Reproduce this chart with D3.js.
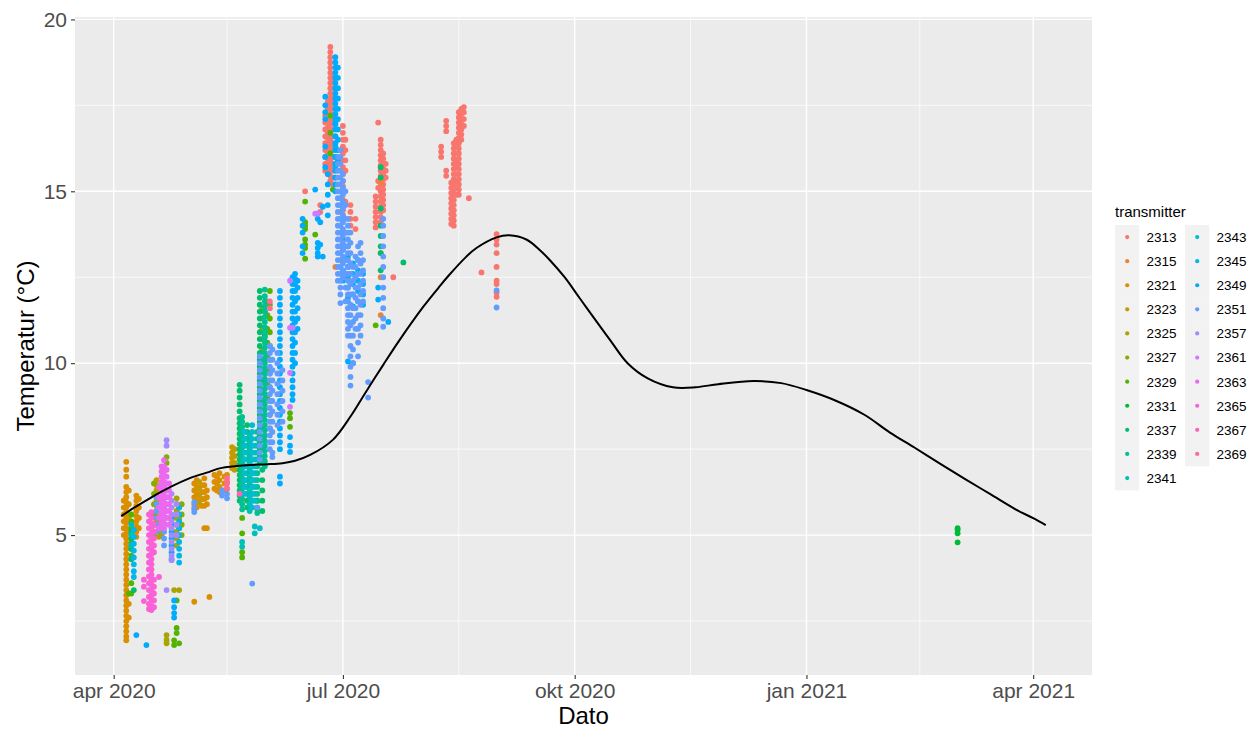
<!DOCTYPE html>
<html>
<head>
<meta charset="utf-8">
<script src="https://cdn.jsdelivr.net/npm/d3@7"></script>
<style>
  body { margin: 0; background: #ffffff; }
  svg { display: block; }
  text { font-family: "Liberation Sans", Arial, sans-serif; }
</style>
</head>
<body>
<svg id="chart" width="1254" height="730"></svg>
<script>
// ---- tick labels ----
const xTickDates = ["2020-04-01", "2020-07-01", "2020-10-01", "2021-01-01", "2021-04-01"];
const xTickLabels = ["apr 2020", "jul 2020", "okt 2020", "jan 2021", "apr 2021"];
const xMinorDates = ["2020-05-16", "2020-08-16", "2020-11-16", "2021-02-15"];
const yTicks = [5, 10, 15, 20];
const yMinor = [2.5, 7.5, 12.5, 17.5];

// ---- categories ----
const transmitters = ["2313", "2315", "2321", "2323", "2325", "2327", "2329", "2331", "2337", "2339", "2341",
                      "2343", "2345", "2349", "2351", "2357", "2361", "2363", "2365", "2367", "2369"];

// ---- observations per transmitter: [date, temperature, temperature, ...] ----
const obs2313 = [
  ["2020-06-16", 15.0],
  ["2020-06-22", 14.6, 14.4],
  ["2020-06-24", 17.2, 17.0, 16.8, 16.6, 16.4, 16.2, 16.0, 15.8, 15.6],
  ["2020-06-25", 17.6, 17.4, 17.2, 17.0, 16.85, 16.7, 16.55, 16.4, 16.25, 16.1, 15.95, 15.8, 15.65, 15.5],
  ["2020-06-26", 19.2, 19.05, 18.9, 18.75, 18.6, 18.45, 18.3, 18.15, 18.0, 17.85, 17.7, 17.55, 17.4, 17.25, 17.1, 16.95, 16.8, 16.65, 16.5, 16.35, 16.2, 16.05, 15.9, 15.75, 15.6, 15.45, 15.3],
  ["2020-06-27", 18.4, 18.2, 18.0, 17.8, 17.6, 17.4, 17.2, 17.0, 16.8, 16.6, 16.4, 16.2, 16.0, 15.8, 15.6, 15.4, 15.2],
  ["2020-07-01", 16.9, 16.7, 16.5, 16.3, 16.1, 15.9, 15.7, 15.5, 15.3, 15.15, 14.75, 14.6, 14.45, 14.3],
  ["2020-07-02", 16.5, 16.2, 15.9, 15.6, 14.7],
  ["2020-07-04", 14.6, 14.4, 14.2, 14.0],
  ["2020-07-06", 14.2, 13.9],
  ["2020-07-14", 14.85, 14.7, 14.55, 14.4, 14.25, 14.1, 13.95],
  ["2020-07-15", 17.0, 15.3, 15.1],
  ["2020-07-16", 16.5, 16.35, 16.2, 16.05, 15.9, 15.75, 15.6, 15.45, 15.3, 15.15, 15.0, 14.85, 14.7, 14.55, 14.4, 14.25, 14.1],
  ["2020-07-17", 16.1, 15.95, 15.8, 15.65, 15.5, 15.35, 15.2, 15.05, 14.9, 14.75, 14.6, 14.45],
  ["2020-07-18", 15.8, 15.6, 15.4],
  ["2020-07-21", 12.5],
  ["2020-08-09", 16.3, 16.15, 16.0],
  ["2020-08-11", 17.05, 16.9, 16.75, 15.6, 15.45],
  ["2020-08-13", 15.25, 15.1, 14.95, 14.8, 14.65, 14.5, 14.35, 14.2, 14.05],
  ["2020-08-14", 16.4, 16.25, 16.1, 15.95, 15.8, 15.65, 15.5, 15.35, 15.2, 15.05, 14.9, 14.75, 14.6, 14.45, 14.3, 14.15, 14.0],
  ["2020-08-15", 16.5, 16.3, 16.1, 15.9, 15.7, 15.5, 15.3, 15.1, 14.9],
  ["2020-08-16", 17.3, 17.15, 17.0, 16.85, 16.7, 16.55, 16.4, 16.25, 16.1, 15.95, 15.8, 15.65, 15.5, 15.35, 15.2, 15.05, 14.9],
  ["2020-08-17", 17.4, 17.25, 17.1, 16.95, 16.8, 16.65, 16.5],
  ["2020-08-18", 17.45, 17.3, 17.1, 16.9],
  ["2020-08-20", 14.8],
  ["2020-08-25", 12.64],
  ["2020-08-31", 13.75, 13.6, 13.45, 13.2, 12.8, 12.4, 12.3, 12.05, 11.93]
];
const obs2315 = [
  ["2020-06-28", 12.8],
  ["2020-07-16", 15.25, 13.2, 12.5, 11.4]
];
const obs2321 = [
  ["2020-04-05", 6.0, 5.8, 5.6, 5.4, 5.2, 5.0],
  ["2020-04-06", 7.13, 6.9, 6.7, 6.4, 6.25, 6.1, 5.95, 5.8, 5.65, 5.5, 5.35, 5.2, 5.05, 4.9, 4.75, 4.6, 4.45, 4.3, 4.15, 4.0, 3.85, 3.7, 3.55, 3.4, 3.25, 3.1, 2.95, 2.8, 2.65, 2.5, 2.35, 2.2, 2.05, 1.94],
  ["2020-04-07", 6.3, 5.9, 5.5, 5.1, 4.7, 3.0, 2.6],
  ["2020-04-10", 6.15, 6.0, 5.85, 5.7, 5.55, 5.4, 5.25, 5.1, 4.95],
  ["2020-04-11", 6.05, 5.8, 5.5, 5.2],
  ["2020-05-03", 6.5, 6.3, 6.1, 5.9, 5.75, 3.06],
  ["2020-05-04", 6.6, 6.4, 6.2, 6.0, 5.8],
  ["2020-05-06", 6.45, 6.25, 6.05, 5.85],
  ["2020-05-07", 6.65, 6.45, 6.25, 6.05, 5.85, 5.2],
  ["2020-05-08", 6.3, 6.1, 5.9, 5.2],
  ["2020-05-09", 3.2],
  ["2020-05-11", 6.75, 6.55, 6.35],
  ["2020-05-12", 6.7, 6.5, 6.3],
  ["2020-05-13", 6.8, 6.6, 6.4, 6.25],
  ["2020-05-15", 6.7, 6.5, 6.3],
  ["2020-05-16", 6.75, 6.55, 6.35]
];
const obs2323 = [
  ["2020-04-18", 6.6, 6.45, 6.3, 6.15, 6.0, 5.85, 5.7, 5.55, 5.4],
  ["2020-04-19", 5.25, 5.1, 4.95],
  ["2020-05-05", 6.55, 6.35, 6.15, 5.95],
  ["2020-05-18", 7.56, 7.4, 7.25, 7.1, 6.95],
  ["2020-05-19", 7.5, 7.3, 7.1, 6.9]
];
const obs2325 = [
  ["2020-04-20", 6.0, 5.8, 5.6, 5.4, 5.2, 5.0],
  ["2020-04-22", 2.09, 1.95, 1.85],
  ["2020-04-25", 3.4],
  ["2020-04-26", 6.07, 5.9, 5.7, 5.5, 5.3, 5.1, 4.9, 4.7],
  ["2020-04-27", 5.8, 5.5, 5.2, 3.4]
];
const obs2327 = [
  ["2020-04-17", 6.5, 6.2, 5.9, 5.6, 5.3, 5.0],
  ["2020-04-22", 7.27, 7.1],
  ["2020-04-28", 5.9, 5.6, 5.3, 5.0],
  ["2020-05-30", 11.6, 11.3, 11.0, 10.7, 10.4, 10.1, 9.8, 9.5, 9.2, 8.9]
];
const obs2329 = [
  ["2020-04-07", 3.3],
  ["2020-04-08", 5.6, 5.4, 5.2, 5.0, 4.8, 4.6, 4.4, 3.6, 3.3],
  ["2020-04-25", 1.94, 1.8],
  ["2020-04-26", 2.3, 2.15, 3.1],
  ["2020-04-27", 1.85],
  ["2020-05-22", 5.5, 5.05, 4.5, 4.35],
  ["2020-05-25", 5.8],
  ["2020-05-28", 6.0, 5.75],
  ["2020-06-01", 11.8, 11.4, 11.0, 10.6, 10.2, 9.8, 9.4, 9.0],
  ["2020-06-02", 12.1, 11.7, 11.3, 10.9, 10.5, 10.1, 9.7, 9.3, 8.9, 8.5, 8.1],
  ["2020-06-10", 8.55, 8.4, 8.15],
  ["2020-06-16", 14.7, 14.1, 14.0, 13.9, 13.6, 13.45, 13.35, 13.04],
  ["2020-06-20", 13.74],
  ["2020-06-26", 17.2, 16.7, 16.1],
  ["2020-06-27", 15.05],
  ["2020-07-14", 11.1]
];
const obs2331 = [
  ["2020-05-31", 11.5, 10.8, 10.1, 9.5],
  ["2021-03-02", 5.2, 5.15, 5.05, 4.79]
];
const obs2337 = [
  ["2020-04-08", 5.1, 4.9, 4.6, 4.3],
  ["2020-04-09", 3.4],
  ["2020-05-21", 9.37, 9.2, 9.0, 8.8, 8.6, 8.4, 8.25, 8.1, 7.95, 7.8, 7.65, 7.5, 7.35, 7.2, 7.05, 6.9, 6.75, 6.6, 6.45, 6.3, 6.15, 6.0],
  ["2020-05-24", 8.2, 8.0, 7.8, 7.6, 7.4, 7.2, 7.0, 6.8, 6.6, 6.4, 6.2, 6.0, 5.8],
  ["2020-05-29", 12.1, 11.9, 11.7, 11.5, 11.3, 11.1, 10.9, 10.7, 10.5, 10.3, 10.1, 9.9, 9.7, 9.5, 9.3, 9.1, 8.9, 8.7, 8.5, 8.3, 8.1, 7.9, 7.7, 7.5, 7.3, 7.1],
  ["2020-05-30", 8.4, 8.1, 7.8, 7.5, 7.2, 6.9, 6.6, 6.3, 6.0, 5.7],
  ["2020-07-16", 15.7, 15.4, 14.5, 14.0, 13.7, 13.4, 13.2, 12.7],
  ["2020-07-25", 12.93]
];
const obs2339 = [
  ["2020-05-22", 8.44, 8.3, 8.15, 8.0, 7.85, 7.7, 7.55, 7.4, 7.25, 7.1, 6.95, 6.8, 6.65, 6.5, 6.35, 6.2, 6.05, 5.9, 5.75],
  ["2020-05-28", 8.0, 7.8, 7.6, 7.4, 7.2, 7.0, 6.8, 6.6, 6.4, 6.2, 6.0, 5.8, 5.64],
  ["2020-05-31", 12.14, 11.95, 11.8, 11.65, 11.5, 11.35, 11.2, 11.05, 10.9, 10.75, 10.6, 10.45, 10.3, 10.15, 10.0, 9.85, 9.7, 9.55, 9.4, 9.25, 9.1, 8.95, 8.8, 8.65, 8.5, 8.35, 8.2, 8.05, 7.9, 7.75, 7.6, 7.45, 7.3, 7.15, 7.0]
];
const obs2341 = [
  ["2020-04-08", 5.3, 5.0, 4.7],
  ["2020-05-22", 4.8, 4.66],
  ["2020-05-25", 7.9, 7.7, 7.5, 7.3, 7.1, 6.9, 6.7, 6.5, 6.3, 6.1, 5.9, 5.7],
  ["2020-05-27", 7.6, 7.4, 7.2, 7.0, 6.8, 6.6, 6.4, 6.2, 6.0, 5.25, 5.05]
];
const obs2343 = [
  ["2020-05-23", 8.0, 7.8, 7.6, 7.4, 7.2, 7.0, 6.8, 6.6, 6.4, 6.2],
  ["2020-05-26", 8.2, 8.0, 7.8, 7.6, 7.4, 7.2, 7.0, 6.8, 6.6, 6.4, 6.2, 6.0, 5.8],
  ["2020-05-29", 5.2]
];
const obs2345 = [
  ["2020-04-09", 5.15, 4.95, 4.75, 4.55, 4.35, 4.15, 3.95, 3.78],
  ["2020-04-27", 5.8, 5.6, 5.4, 5.2, 5.0, 4.8, 4.6, 4.4, 4.2],
  ["2020-06-28", 17.0, 16.6, 16.3, 16.0, 15.7, 15.4]
];
const obs2349 = [
  ["2020-04-10", 2.09],
  ["2020-04-14", 1.8],
  ["2020-04-24", 5.5, 5.3, 5.1, 4.9, 4.7, 4.5, 4.3],
  ["2020-04-25", 3.1, 2.9, 2.73, 2.6],
  ["2020-06-06", 12.1, 11.9, 11.7, 11.5, 11.3, 11.1, 10.9, 10.7, 10.5, 10.3, 10.1, 9.9, 9.7, 9.5, 9.3, 9.1, 8.9, 8.7, 8.5, 8.3, 8.1, 7.9, 7.7, 7.5, 6.7, 6.5],
  ["2020-06-10", 7.85, 7.6, 7.42],
  ["2020-06-11", 12.5, 12.3, 12.1, 11.9, 11.7, 11.5, 11.3, 11.1, 10.9, 10.7, 10.5, 10.3, 10.1, 9.9, 9.7, 9.5, 9.3, 9.1, 8.93],
  ["2020-06-12", 12.6, 12.45, 12.3, 12.1, 11.8, 11.5, 11.2, 10.9, 10.6, 10.3, 10.0],
  ["2020-06-13", 12.4, 12.2, 11.9, 11.6, 11.3, 11.0],
  ["2020-06-15", 14.2, 14.0, 13.8, 13.4, 13.2],
  ["2020-06-20", 15.05],
  ["2020-06-21", 14.35, 14.2, 13.5, 13.35, 13.2, 13.1],
  ["2020-06-22", 14.1, 13.45],
  ["2020-06-23", 14.55, 13.1],
  ["2020-06-24", 17.75, 17.5, 17.3, 17.1, 16.3, 16.0, 15.7],
  ["2020-06-25", 15.5, 15.2, 14.9, 14.6, 14.3],
  ["2020-06-28", 18.9, 18.75, 18.6, 18.45, 18.3, 18.15, 18.0, 17.85, 17.7, 17.55, 17.4, 17.25, 17.1, 16.95, 16.8, 16.6, 16.4, 16.2, 16.0, 15.8, 15.6, 15.4, 15.2, 15.0],
  ["2020-06-29", 18.6, 18.3, 18.0, 17.7, 17.4, 17.1, 16.8, 16.5, 16.2, 15.9],
  ["2020-07-01", 13.6, 13.3, 13.0, 12.7, 12.4],
  ["2020-07-03", 13.4, 13.1, 12.8, 12.5, 12.2, 11.9, 10.05],
  ["2020-07-05", 12.9, 12.6, 12.3, 12.0, 11.65, 10.0],
  ["2020-07-07", 13.0, 12.7, 12.4, 12.1, 11.8],
  ["2020-07-09", 12.6, 12.3, 12.0, 11.7],
  ["2020-07-15", 12.2, 11.85],
  ["2020-07-19", 11.2]
];
const obs2351 = [
  ["2020-04-18", 6.1, 5.9, 5.7, 5.5, 5.3, 5.1],
  ["2020-04-21", 6.3, 6.1, 5.9, 5.7, 5.5, 5.3, 5.1, 4.9, 4.7],
  ["2020-05-03", 5.96, 5.8, 5.67],
  ["2020-05-14", 6.3, 6.15],
  ["2020-05-16", 6.2, 6.07],
  ["2020-05-26", 3.59],
  ["2020-05-28", 5.8],
  ["2020-05-29", 10.2, 10.0, 9.8, 9.6, 9.4, 9.2, 9.0, 8.8, 8.6, 8.4, 8.2, 8.0, 7.8, 7.6, 7.4, 7.2],
  ["2020-06-02", 10.5, 10.3, 10.1, 9.9, 9.7, 9.5, 9.3, 9.1, 8.9, 8.7, 8.5, 8.3, 8.1, 7.9, 7.7, 7.5],
  ["2020-06-03", 10.4, 10.1, 9.8, 9.5, 9.2, 8.9, 8.6, 8.3, 8.0, 7.7, 7.4, 7.27],
  ["2020-06-05", 10.3, 10.0, 9.7, 9.4, 9.1, 8.8, 8.5, 8.2],
  ["2020-06-07", 9.8, 9.5, 9.2, 8.9, 8.6, 8.3],
  ["2020-06-29", 16.0, 15.8, 15.6, 15.4, 15.2, 15.0, 14.8, 14.6, 14.4, 14.2, 14.0, 13.8, 13.6, 13.4, 13.2, 13.0, 12.8, 12.6, 12.4],
  ["2020-06-30", 16.2, 16.0, 15.8, 15.6, 15.4, 15.2, 15.0, 14.8, 14.6, 14.4, 14.2, 14.0, 13.8, 13.6, 13.4, 13.2, 13.0, 12.8, 12.6, 12.4, 12.2, 12.0, 11.75],
  ["2020-07-01", 15.5, 15.3, 15.1, 14.9, 14.7, 14.5, 14.3, 14.1, 13.9, 13.7, 13.5, 13.3, 13.1, 12.9, 12.7, 12.5],
  ["2020-07-02", 15.0, 14.6, 14.2, 13.8, 13.4, 13.0, 12.6, 12.2, 11.8],
  ["2020-07-03", 14.2, 14.0, 13.8, 13.6, 13.4, 13.2, 13.0, 12.8, 12.6, 12.4, 12.2, 12.0, 11.8, 11.6, 11.4, 11.2, 11.0, 10.8],
  ["2020-07-04", 13.8, 13.5, 13.2, 12.9, 12.6, 12.3, 12.0, 11.7, 11.4, 11.1, 10.8, 10.5, 10.2, 9.9, 9.6, 9.35],
  ["2020-07-05", 12.8, 12.4, 12.0, 11.6, 11.2, 10.8, 10.4, 10.0],
  ["2020-07-06", 13.1, 12.8, 12.5, 12.2, 11.9, 11.6, 11.3, 11.0],
  ["2020-07-07", 13.4, 13.0, 12.6, 12.2, 11.8, 11.4, 11.0, 10.6, 10.2],
  ["2020-07-08", 13.5, 13.2, 12.9, 12.6, 12.3, 12.0, 11.7, 11.4, 11.1, 10.8],
  ["2020-07-09", 13.0, 12.7, 12.4, 12.1, 11.8],
  ["2020-07-11", 9.45, 9.0],
  ["2020-07-17", 14.2, 14.0, 13.7, 13.4, 13.1, 12.8, 12.5, 12.2, 11.9, 11.6, 11.3, 11.06],
  ["2020-08-31", 12.12, 11.62]
];
const obs2357 = [
  ["2020-04-22", 7.76, 7.6, 3.4],
  ["2020-04-24", 6.2, 6.0, 5.8, 5.6, 5.4, 5.2, 5.0, 4.8, 4.6, 4.4, 4.27],
  ["2020-04-26", 5.9, 5.6, 5.3, 5.0]
];
const obs2361 = [
  ["2020-06-10", 12.4, 11.03, 9.72, 8.73],
  ["2020-06-11", 11.03],
  ["2020-06-20", 14.35],
  ["2020-06-21", 14.35]
];
const obs2363 = [
  ["2020-04-19", 6.4, 6.1, 5.8, 5.5, 5.2],
  ["2020-04-20", 7.0, 6.85, 6.7, 6.55, 6.4, 6.25, 6.1, 5.95, 5.8, 5.65, 5.5, 5.35],
  ["2020-04-21", 7.18, 7.0, 6.85, 6.7, 6.55, 6.4, 6.25, 6.1, 5.95, 5.8, 5.65, 5.5, 5.35, 5.2],
  ["2020-04-22", 6.9, 6.7, 6.5, 6.3, 6.1, 5.9, 5.7, 5.5],
  ["2020-04-23", 6.5, 6.3, 6.1, 5.9, 5.7, 5.5, 5.3]
];
const obs2365 = [
  ["2020-04-13", 3.7, 3.5, 3.08],
  ["2020-04-15", 5.6, 5.4, 5.2, 5.0, 4.8, 4.6, 4.4, 4.2, 4.0, 3.8, 3.6, 3.4, 3.2, 3.0, 2.85],
  ["2020-04-16", 5.67, 5.5, 5.35, 5.2, 5.05, 4.9, 4.75, 4.6, 4.45, 4.3, 4.15, 4.0, 3.85, 3.7, 3.55, 3.4, 3.25, 3.1, 2.95, 2.82],
  ["2020-04-17", 5.3, 5.1, 4.9, 4.7, 4.5, 3.7, 3.5, 3.3, 3.1, 2.9],
  ["2020-04-19", 3.78]
];
const obs2367 = [
  ["2020-05-21", 6.2]
];
const obs2369 = [
  ["2020-05-16", 6.65, 6.5, 6.35],
  ["2020-06-02", 11.8, 11.6]
];
const observations = [obs2313, obs2315, obs2321, obs2323, obs2325, obs2327, obs2329, obs2331, obs2337, obs2339, obs2341,
                      obs2343, obs2345, obs2349, obs2351, obs2357, obs2361, obs2363, obs2365, obs2367, obs2369];

// ---- smoothed trend over all observations ----
const smoothDates = ["2020-04-04", "2020-04-09", "2020-04-16", "2020-04-23", "2020-05-01", "2020-05-09", "2020-05-13",
  "2020-05-20", "2020-05-25", "2020-06-01", "2020-06-07", "2020-06-12", "2020-06-18", "2020-06-27", "2020-07-04",
  "2020-07-10", "2020-07-17", "2020-07-23", "2020-08-02", "2020-08-08", "2020-08-12", "2020-08-19", "2020-08-23",
  "2020-08-31", "2020-09-05", "2020-09-12", "2020-09-17", "2020-09-21", "2020-09-27", "2020-10-03", "2020-10-15",
  "2020-10-22", "2020-10-30", "2020-11-09", "2020-11-18", "2020-11-27", "2020-12-11", "2020-12-22", "2021-01-01",
  "2021-01-12", "2021-01-24", "2021-02-03", "2021-02-13", "2021-02-23", "2021-03-05", "2021-03-15", "2021-03-25",
  "2021-04-01", "2021-04-06"];
const smoothTemps = [5.55, 5.79, 6.10, 6.38, 6.65, 6.84, 6.94, 7.01, 7.04, 7.06, 7.09, 7.16, 7.33, 7.77, 8.45,
  9.15, 9.95, 10.62, 11.65, 12.2, 12.55, 13.1, 13.35, 13.66, 13.72, 13.59, 13.3, 13.01, 12.5, 11.89, 10.68,
  10.0, 9.56, 9.30, 9.30, 9.39, 9.48, 9.42, 9.22, 8.93, 8.50, 7.99, 7.54, 7.08, 6.63, 6.19, 5.75, 5.49, 5.29];

// ---- ggplot-style hue palette (polar LUV -> sRGB) ----
function hclColor(h, c, l) {
  const Xn = 95.047, Yn = 100, Zn = 108.883;
  const hr = h * Math.PI / 180;
  const U = c * Math.cos(hr), V = c * Math.sin(hr);
  const Y = l > 8 ? Yn * Math.pow((l + 16) / 116, 3) : Yn * l / 903.3;
  const t = Xn + 15 * Yn + 3 * Zn, un = 4 * Xn / t, vn = 9 * Yn / t;
  const up = U / (13 * l) + un, vp = V / (13 * l) + vn;
  const X = 9 * Y * up / (4 * vp), Z = -X / 3 - 5 * Y + 3 * Y / vp;
  const lin = [
    3.240479 * X - 1.537150 * Y - 0.498535 * Z,
    -0.969256 * X + 1.875992 * Y + 0.041556 * Z,
    0.055648 * X - 0.204043 * Y + 1.057311 * Z
  ].map(v => v / 100);
  const gam = v => { v = Math.max(0, Math.min(1, v)); return v <= 0.0031308 ? 12.92 * v : 1.055 * Math.pow(v, 1 / 2.4) - 0.055; };
  const [r, g, b] = lin.map(v => Math.round(255 * gam(v)));
  return d3.rgb(r, g, b).formatHex();
}
const palette = transmitters.map((_, i) => hclColor(15 + i * 360 / transmitters.length, 100, 65));
const color = d3.scaleOrdinal().domain(transmitters).range(palette);

// ---- build the point table ----
const parse = d3.utcParse("%Y-%m-%d");
const points = [];
transmitters.forEach((id, i) => {
  observations[i].forEach(row => {
    const date = parse(row[0]);
    for (let k = 1; k < row.length; k++) points.push({ id, date, temp: row[k] });
  });
});
const smooth = smoothDates.map((s, i) => ({ date: parse(s), temp: smoothTemps[i] }));

// ---- layout ----
const svg = d3.select("#chart");
const panel = { left: 75, right: 1092, top: 17, bottom: 675 };

const xExt = d3.extent(points.map(p => p.date).concat(smooth.map(p => p.date)));
const xPad = (xExt[1] - xExt[0]) * 0.05;
const x = d3.scaleUtc()
  .domain([new Date(+xExt[0] - xPad), new Date(+xExt[1] + xPad)])
  .range([panel.left, panel.right]);

const yExt = d3.extent(points, p => p.temp);
const yPad = (yExt[1] - yExt[0]) * 0.05;
const y = d3.scaleLinear()
  .domain([yExt[0] - yPad, yExt[1] + yPad])
  .range([panel.bottom, panel.top]);

// panel background
svg.append("rect")
  .attr("x", panel.left).attr("y", panel.top)
  .attr("width", panel.right - panel.left).attr("height", panel.bottom - panel.top)
  .attr("fill", "#EBEBEB");

const grid = svg.append("g").attr("stroke", "#ffffff").attr("fill", "none");
grid.selectAll("line.ymin").data(yMinor).join("line")
  .attr("x1", panel.left).attr("x2", panel.right)
  .attr("y1", d => y(d)).attr("y2", d => y(d)).attr("stroke-width", 0.7);
grid.selectAll("line.xmin").data(xMinorDates).join("line")
  .attr("y1", panel.top).attr("y2", panel.bottom)
  .attr("x1", d => x(parse(d))).attr("x2", d => x(parse(d))).attr("stroke-width", 0.7);
grid.selectAll("line.ymaj").data(yTicks).join("line")
  .attr("x1", panel.left).attr("x2", panel.right)
  .attr("y1", d => y(d)).attr("y2", d => y(d)).attr("stroke-width", 1.4);
grid.selectAll("line.xmaj").data(xTickDates).join("line")
  .attr("y1", panel.top).attr("y2", panel.bottom)
  .attr("x1", d => x(parse(d))).attr("x2", d => x(parse(d))).attr("stroke-width", 1.4);

// points
svg.append("g").selectAll("circle").data(points).join("circle")
  .attr("cx", d => x(d.date))
  .attr("cy", d => y(d.temp))
  .attr("r", 2.9)
  .attr("fill", d => color(d.id));

// smoothed line
svg.append("path")
  .datum(smooth)
  .attr("fill", "none")
  .attr("stroke", "#000000")
  .attr("stroke-width", 2)
  .attr("d", d3.line().x(d => x(d.date)).y(d => y(d.temp)).curve(d3.curveCatmullRom.alpha(0.5)));

// axes
const xAxis = svg.append("g")
  .attr("transform", `translate(0,${panel.bottom})`)
  .call(d3.axisBottom(x)
    .tickValues(xTickDates.map(parse))
    .tickFormat((d, i) => xTickLabels[i])
    .tickSizeInner(4).tickSizeOuter(0).tickPadding(4));
const yAxis = svg.append("g")
  .attr("transform", `translate(${panel.left},0)`)
  .call(d3.axisLeft(y).tickValues(yTicks).tickFormat(d3.format("d"))
    .tickSizeInner(4).tickSizeOuter(0).tickPadding(4));
[xAxis, yAxis].forEach(g => {
  g.select(".domain").remove();
  g.selectAll(".tick line").attr("stroke", "#333333").attr("stroke-width", 1.1);
  g.selectAll(".tick text").attr("fill", "#4D4D4D").style("font-size", "21px");
});

// axis titles
svg.append("text")
  .attr("x", (panel.left + panel.right) / 2).attr("y", 724)
  .attr("text-anchor", "middle").style("font-size", "24px").attr("fill", "#000")
  .text("Dato");
svg.append("text")
  .attr("transform", `translate(34,${(panel.top + panel.bottom) / 2}) rotate(-90)`)
  .attr("text-anchor", "middle").style("font-size", "24px").attr("fill", "#000")
  .text("Temperatur (°C)");

// legend
const legend = svg.append("g");
legend.append("text")
  .attr("x", 1115).attr("y", 217)
  .style("font-size", "15px").attr("fill", "#000")
  .text("transmitter");
const rowH = 24.1, perCol = 11;
const colX = [1115, 1185];
transmitters.forEach((id, i) => {
  const col = Math.floor(i / perCol), row = i % perCol;
  const kx = colX[col], ky = 225 + row * rowH;
  legend.append("rect").attr("x", kx).attr("y", ky).attr("width", 24.3).attr("height", rowH + 0.3).attr("fill", "#F2F2F2");
  legend.append("circle").attr("cx", kx + 12.2).attr("cy", ky + rowH / 2).attr("r", 2.1).attr("fill", color(id));
  legend.append("text")
    .attr("x", kx + 31.5).attr("y", ky + rowH / 2).attr("dy", "0.36em")
    .style("font-size", "13.5px").attr("fill", "#000")
    .text(id);
});
</script>
</body>
</html>
